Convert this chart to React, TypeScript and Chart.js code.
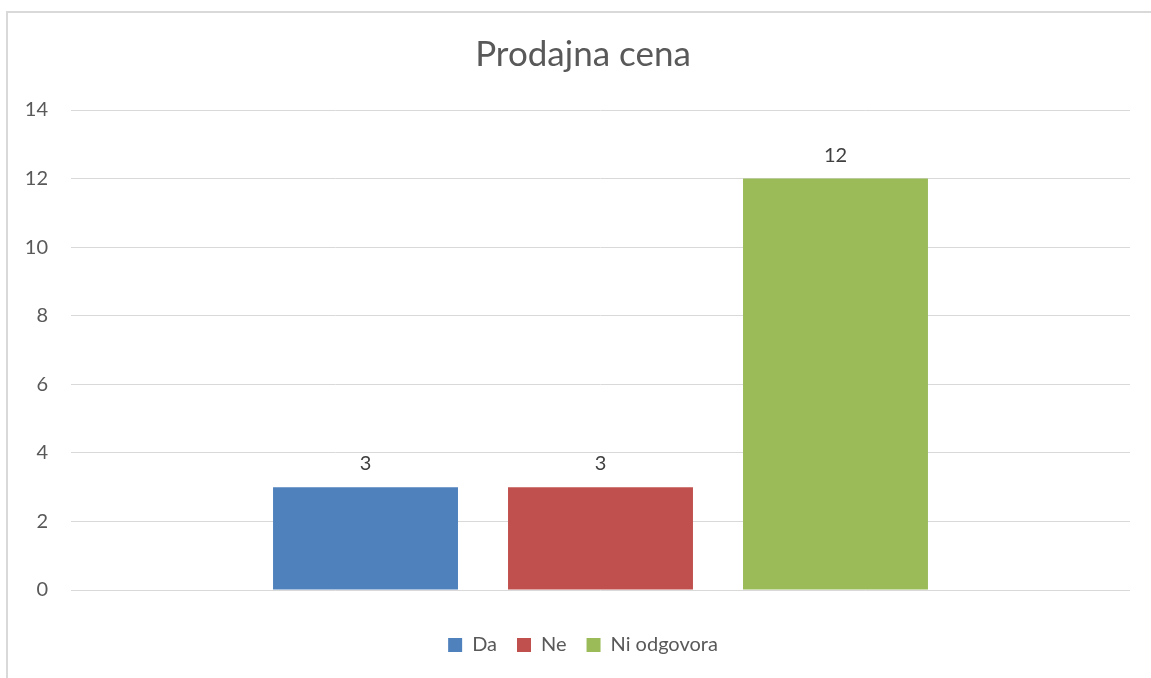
import React, { useEffect, useRef } from "react";
import { Chart, registerables } from "chart.js";

Chart.register(...registerables);

const chartTitle = "Prodajna cena";
const categories = [""];
const seriesNames = ["Da", "Ne", "Ni odgovora"];
const seriesValues = [3, 3, 12];
const seriesColors = ["#4F81BD", "#C0504D", "#9BBB59"];
const yTicks = [0, 2, 4, 6, 8, 10, 12, 14];

const FONT = "Lato, 'Noto Sans', sans-serif";
const TEXT = "#595959";

const dataLabelPlugin = {
  id: "dataLabels",
  afterDatasetsDraw(chart: any) {
    const ctx = chart.ctx;
    ctx.save();
    ctx.font = `20px ${FONT}`;
    ctx.fillStyle = "#404040";
    ctx.textAlign = "center";
    ctx.textBaseline = "alphabetic";
    chart.data.datasets.forEach((ds: any, i: number) => {
      const meta = chart.getDatasetMeta(i);
      meta.data.forEach((el: any, j: number) => {
        ctx.fillText(String(ds.data[j]), el.x, el.y - 17);
      });
    });
    ctx.restore();
  },
};

export default function App() {
  const ref = useRef<HTMLCanvasElement | null>(null);
  useEffect(() => {
    if (!ref.current) return;
    const chart = new Chart(ref.current, {
      type: "bar",
      data: {
        labels: categories,
        datasets: seriesNames.map((name, i) => ({
          label: name,
          data: [seriesValues[i]],
          backgroundColor: seriesColors[i],
          borderWidth: 0,
          categoryPercentage: 0.6657,
          barPercentage: 0.787,
        })),
      },
      options: {
        responsive: false,
        animation: false,
        devicePixelRatio: 1,
        layout: { padding: { left: 0, right: 0, top: 0, bottom: 15 } },
        plugins: {
          tooltip: { enabled: false },
          title: {
            display: true,
            text: chartTitle,
            color: TEXT,
            font: { family: FONT, size: 35, weight: "normal" },
            padding: { top: 21, bottom: 34 },
          },
          legend: {
            position: "bottom",
            labels: {
              color: TEXT,
              font: { family: FONT, size: 20 },
              boxWidth: 14,
              boxHeight: 14,
              padding: 20,
            },
          },
        },
        scales: {
          x: {
            grid: { display: false },
            border: { display: false },
            ticks: { display: false },
            afterFit: (s: any) => {
              s.height = 25;
            },
          },
          y: {
            min: 0,
            max: 14,
            afterBuildTicks: (s: any) => {
              s.ticks = yTicks.map((v) => ({ value: v }));
            },
            grid: { color: "#d9d9d9", lineWidth: 1, drawTicks: false, tickLength: 0 },
            border: { display: false },
            ticks: {
              color: TEXT,
              font: { family: FONT, size: 20 },
              padding: 23,
            },
            afterFit: (s: any) => {
              s.width = 63;
            },
          },
          yRightSpace: {
            position: "right",
            display: true,
            min: 0,
            max: 14,
            grid: { display: false, drawTicks: false },
            border: { display: false },
            ticks: { display: false },
            afterFit: (s: any) => {
              s.width = 28;
            },
          },
        },
      },
      plugins: [dataLabelPlugin],
    });
    return () => chart.destroy();
  }, []);

  return (
    <div
      style={{
        position: "fixed",
        left: 0,
        top: 0,
        width: 1151,
        height: 678,
        overflow: "hidden",
        background: "#fff",
      }}
    >
      <div
        style={{
          position: "absolute",
          left: 6,
          top: 11,
          width: 1160,
          height: 700,
          borderTop: "2px solid #d9d9d9",
          borderLeft: "2px solid #d9d9d9",
          boxSizing: "border-box",
          overflow: "hidden",
        }}
      >
        <canvas ref={ref} width={1150} height={667} style={{ display: "block", width: 1150, height: 667 }} />
      </div>
    </div>
  );
}
